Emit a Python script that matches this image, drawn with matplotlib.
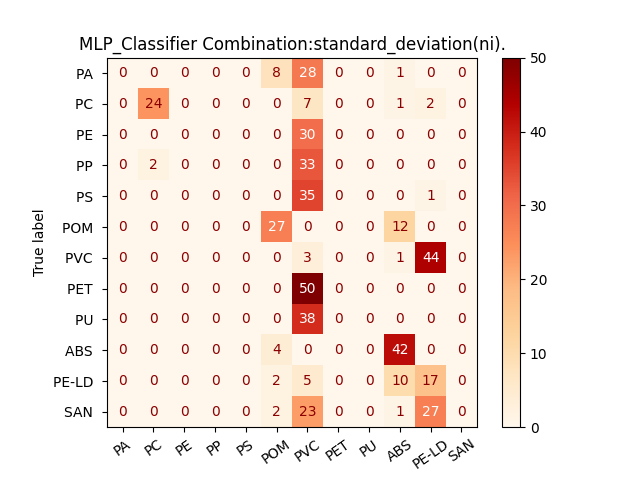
import numpy as np
import matplotlib
matplotlib.use("Agg")
import matplotlib.pyplot as plt

classes = ['PA', 'PC', 'PE', 'PP', 'PS', 'POM', 'PVC', 'PET', 'PU', 'ABS', 'PE-LD', 'SAN']

cm = np.array([
    [0, 0, 0, 0, 0, 8, 28, 0, 0, 1, 0, 0],
    [0, 24, 0, 0, 0, 0, 7, 0, 0, 1, 2, 0],
    [0, 0, 0, 0, 0, 0, 30, 0, 0, 0, 0, 0],
    [0, 2, 0, 0, 0, 0, 33, 0, 0, 0, 0, 0],
    [0, 0, 0, 0, 0, 0, 35, 0, 0, 0, 1, 0],
    [0, 0, 0, 0, 0, 27, 0, 0, 0, 12, 0, 0],
    [0, 0, 0, 0, 0, 0, 3, 0, 0, 1, 44, 0],
    [0, 0, 0, 0, 0, 0, 50, 0, 0, 0, 0, 0],
    [0, 0, 0, 0, 0, 0, 38, 0, 0, 0, 0, 0],
    [0, 0, 0, 0, 0, 4, 0, 0, 0, 42, 0, 0],
    [0, 0, 0, 0, 0, 2, 5, 0, 0, 10, 17, 0],
    [0, 0, 0, 0, 0, 2, 23, 0, 0, 1, 27, 0],
])

title = 'MLP_Classifier Combination:standard_deviation(ni).'

plt.figure(figsize=(6.4, 4.8), dpi=100)
plt.imshow(cm, interpolation='nearest', cmap=plt.cm.OrRd)
plt.title(title)
plt.colorbar()
tick_marks = np.arange(len(classes))
plt.xticks(tick_marks, classes, rotation=35)
plt.yticks(tick_marks, [c + ' ' for c in classes])

thresh = cm.max() / 2.
for i in range(cm.shape[0]):
    for j in range(cm.shape[1]):
        plt.text(j, i, format(cm[i, j], 'd'),
                 horizontalalignment="center", verticalalignment="center",
                 color="white" if cm[i, j] > thresh else "darkred")

plt.ylabel('True label')
plt.savefig('out.png', dpi=100)
